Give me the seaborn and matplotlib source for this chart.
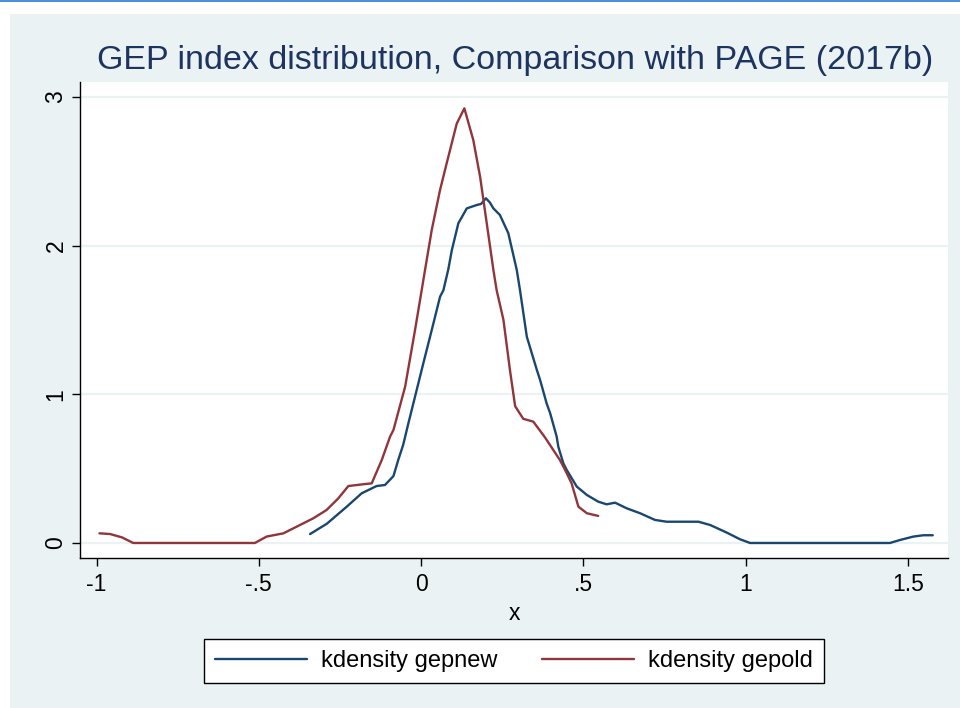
import numpy as np
import pandas as pd
import matplotlib
matplotlib.use("Agg")
import matplotlib.pyplot as plt
from matplotlib.patches import Rectangle
import seaborn as sns

# ---- data ----
new_x = [-0.342, -0.29, -0.229, -0.183, -0.137, -0.111, -0.085, -0.07, -0.055, -0.039, -0.0185,
         0.007, 0.033, 0.0586, 0.069, 0.084, 0.095, 0.115, 0.141, 0.172, 0.185, 0.200, 0.212,
         0.223, 0.243, 0.269, 0.295, 0.305, 0.326, 0.357, 0.367, 0.387, 0.398, 0.418, 0.423,
         0.4385, 0.449, 0.48, 0.511, 0.546, 0.572, 0.598, 0.634, 0.675, 0.721, 0.757, 0.798,
         0.855, 0.891, 0.942, 0.983, 1.014, 1.445, 1.476, 1.517, 1.548, 1.577]
new_y = [0.06, 0.13, 0.244, 0.334, 0.383, 0.39, 0.45, 0.56, 0.66, 0.805, 0.984,
         1.208, 1.432, 1.656, 1.70, 1.84, 1.97, 2.15, 2.25, 2.273, 2.28, 2.318, 2.29,
         2.25, 2.206, 2.083, 1.836, 1.70, 1.387, 1.163, 1.096, 0.939, 0.872, 0.715, 0.648,
         0.536, 0.491, 0.379, 0.323, 0.278, 0.26, 0.271, 0.233, 0.2, 0.155, 0.143, 0.143,
         0.143, 0.121, 0.07, 0.025, 0.0, 0.0, 0.02, 0.043, 0.052, 0.052]

old_x = [-0.991, -0.958, -0.922, -0.887, -0.512, -0.476, -0.424, -0.373, -0.332, -0.291,
         -0.255, -0.224, -0.178, -0.152, -0.121, -0.0955, -0.085, -0.049, -0.0185, 0.002,
         0.0123, 0.033, 0.0586, 0.079, 0.11, 0.1335, 0.161, 0.182, 0.2025, 0.223, 0.233,
         0.254, 0.274, 0.29, 0.315, 0.346, 0.382, 0.428, 0.444, 0.464, 0.485, 0.511, 0.546]
old_y = [0.065, 0.06, 0.038, 0.0, 0.0, 0.043, 0.065, 0.121, 0.166, 0.222,
         0.3, 0.383, 0.395, 0.401, 0.558, 0.715, 0.76, 1.051, 1.432, 1.70,
         1.836, 2.105, 2.374, 2.553, 2.82, 2.923, 2.71, 2.463, 2.15, 1.836, 1.70,
         1.50, 1.163, 0.92, 0.835, 0.816, 0.71, 0.558, 0.491, 0.401, 0.244, 0.2, 0.182]

series_names = ["kdensity gepnew", "kdensity gepold"]
x_ticks = [-1, -0.5, 0, 0.5, 1, 1.5]
x_ticklabels = ["-1", "-.5", "0", ".5", "1", "1.5"]
y_ticks = [0, 1, 2, 3]
y_ticklabels = ["0", "1", "2", "3"]
title = "GEP index distribution, Comparison with PAGE (2017b)"

df = pd.concat([
    pd.DataFrame({"x": new_x, "y": new_y, "series": series_names[0]}),
    pd.DataFrame({"x": old_x, "y": old_y, "series": series_names[1]}),
], ignore_index=True)

# ---- styling ----
sns.set_theme(style="white")
plt.rcParams["font.family"] = ["Liberation Sans", "DejaVu Sans"]
BG = "#eaf2f3"
NAVY = "#1a476f"
MAROON = "#90353b"
TITLE_COL = "#1c345f"

fig = plt.figure(figsize=(9.6, 7.08), dpi=100)
fig.patch.set_facecolor("white")
# Stata-like graph region
fig.patches.append(Rectangle((10 / 960, 0), 950 / 960, (708 - 14) / 708,
                             transform=fig.transFigure, facecolor=BG, edgecolor="none", zorder=-10))
fig.patches.append(Rectangle((0, 706 / 708), 1, 2 / 708,
                             transform=fig.transFigure, facecolor="#4a90d9", edgecolor="none", zorder=-9))

ax = fig.add_axes([80 / 960, (708 - 558) / 708, (948 - 80) / 960, (558 - 82) / 708])
ax.set_facecolor("white")

for name, col in zip(series_names, [NAVY, MAROON]):
    sub = df[df["series"] == name]
    sns.lineplot(x=sub["x"].values, y=sub["y"].values, sort=False, estimator=None,
                 color=col, linewidth=1.7, ax=ax, label=name)

ax.set_xlim(-1.051, 1.624)
ax.set_ylim(-0.101, 3.10)
ax.set_xticks(x_ticks)
ax.set_xticklabels(x_ticklabels)
ax.set_yticks(y_ticks)
ax.set_yticklabels(y_ticklabels, rotation=90, va="center")
ax.grid(axis="y", color=BG, linewidth=1.6)
ax.grid(axis="x", visible=False)
ax.set_axisbelow(True)
for s in ["top", "right"]:
    ax.spines[s].set_visible(False)
for s in ["left", "bottom"]:
    ax.spines[s].set_color("black")
    ax.spines[s].set_linewidth(1.0)
ax.tick_params(axis="both", direction="out", length=6, width=1.0, color="black",
               labelsize=16.5, labelcolor="black", pad=5, bottom=True, left=True)
ax.tick_params(axis="y", pad=3)
ax.set_xlabel("x", fontsize=16.5, color="black", labelpad=4)
ax.set_ylabel("")

fig.text(515 / 960, 1 - 61 / 708, title, ha="center", va="center", fontsize=24.5, color=TITLE_COL)

leg = ax.legend(loc="center", bbox_to_anchor=(514 / 960, 1 - 661 / 708), bbox_transform=fig.transFigure,
                ncol=2, fontsize=17, frameon=True, fancybox=False, framealpha=1,
                edgecolor="black", handlelength=3.9, handletextpad=0.6, columnspacing=1.9,
                borderpad=0.45, borderaxespad=0)
leg.get_frame().set_linewidth(1.0)
for t in leg.get_texts():
    t.set_color("black")

fig.savefig("out.png", dpi=100, facecolor=fig.get_facecolor())
